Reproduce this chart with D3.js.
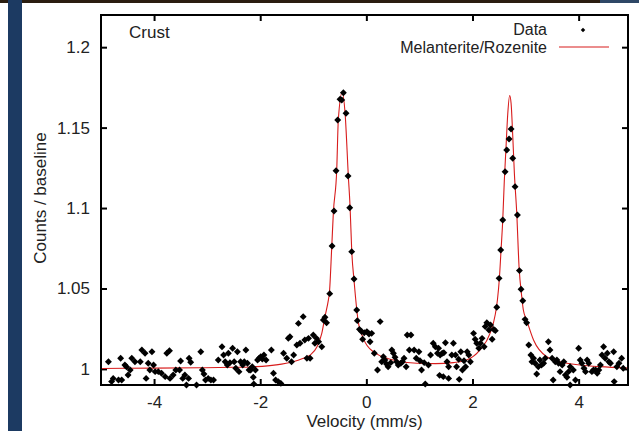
<!DOCTYPE html>
<html>
<head>
<meta charset="utf-8">
<script src="https://cdn.jsdelivr.net/npm/d3@7"></script>
<style>
  body { margin: 0; background: #fff; }
  svg { display: block; font-family: "Liberation Sans", Arial, sans-serif; }
</style>
</head>
<body>
<div id="chart"></div>
<script>
// axis ticks
const xTicks = [-4, -2, 0, 2, 4];
const xTickLabels = ['-4', '-2', '0', '2', '4'];
const yTicks = [1, 1.05, 1.1, 1.15, 1.2];
const yTickLabels = ['1', '1.05', '1.1', '1.15', '1.2'];

// measured spectrum (velocity in mm/s, counts / baseline)
const dataVelocity = [
  -4.86, -4.80, -4.77, -4.67, -4.63, -4.61, -4.55, -4.52, -4.49, -4.45,
  -4.42, -4.36, -4.26, -4.23, -4.17, -4.15, -4.11, -4.08, -4.04, -4.01,
  -3.98, -3.92, -3.86, -3.79, -3.76, -3.71, -3.70, -3.64, -3.59, -3.52,
  -3.50, -3.46, -3.42, -3.39, -3.35, -3.34, -3.31, -3.20, -3.12, -3.09,
  -3.06, -3.03, -2.98, -2.93, -2.88, -2.79, -2.72, -2.69, -2.66, -2.62,
  -2.60, -2.57, -2.52, -2.49, -2.46, -2.43, -2.40, -2.37, -2.33, -2.30,
  -2.27, -2.24, -2.21, -2.18, -2.15, -2.13, -2.12, -2.09, -2.05, -2.02,
  -1.99, -1.96, -1.93, -1.89, -1.79, -1.75, -1.71, -1.66, -1.61, -1.56,
  -1.50, -1.47, -1.44, -1.41, -1.37, -1.31, -1.28, -1.25, -1.19, -1.16,
  -1.12, -1.09, -1.06, -1.00, -0.97, -0.94, -0.90, -0.84, -0.81, -0.78,
  -0.75, -0.690, -0.646, -0.609, -0.571, -0.540, -0.496, -0.464, -0.433, -0.383,
  -0.345, -0.313, -0.276, -0.232, -0.182, -0.17, -0.13, -0.09, -0.07, -0.04,
  0.01, 0.05, 0.07, 0.10, 0.15, 0.21, 0.26, 0.29, 0.32, 0.35,
  0.38, 0.41, 0.46, 0.48, 0.51, 0.54, 0.57, 0.60, 0.65, 0.68,
  0.71, 0.75, 0.77, 0.81, 0.84, 0.90, 0.94, 0.99, 1.01, 1.04,
  1.09, 1.11, 1.17, 1.21, 1.26, 1.30, 1.34, 1.36, 1.38, 1.39,
  1.43, 1.45, 1.46, 1.49, 1.52, 1.55, 1.55, 1.61, 1.64, 1.68,
  1.70, 1.74, 1.75, 1.78, 1.81, 1.84, 1.87, 1.90, 1.93, 1.96,
  2.02, 2.05, 2.08, 2.12, 2.15, 2.18, 2.22, 2.24, 2.27, 2.31,
  2.34, 2.37, 2.40, 2.43, 2.457, 2.501, 2.532, 2.570, 2.614, 2.645,
  2.689, 2.727, 2.758, 2.802, 2.846, 2.884, 2.915, 2.947, 2.99, 3.02,
  3.06, 3.10, 3.12, 3.15, 3.18, 3.21, 3.24, 3.27, 3.30, 3.34,
  3.37, 3.43, 3.46, 3.50, 3.52, 3.56, 3.59, 3.62, 3.65, 3.69,
  3.72, 3.75, 3.78, 3.81, 3.84, 3.84, 3.90, 3.94, 4.00, 4.03,
  4.06, 4.10, 4.13, 4.16, 4.19, 4.25, 4.28, 4.32, 4.35, 4.38,
  4.41, 4.44, 4.47, 4.50, 4.54, 4.57, 4.60, 4.66, 4.67, 4.72,
  4.76, 4.81, 4.84
];
const dataCounts = [
  1.0045, 0.9921, 0.9941, 0.9931, 1.0066, 0.9931, 1.0024, 1.0014, 0.9962, 0.9993,
  1.0066, 1.0045, 1.0045, 1.0118, 1.0097, 0.9941, 1.0035, 0.9993, 1.0107, 1.0024,
  0.9983, 0.9983, 0.9973, 0.9952, 1.0097, 1.0113, 0.9941, 0.9962, 0.9993, 0.9993,
  1.0049, 0.9941, 0.9962, 0.9900, 0.9941, 1.0066, 1.0041, 0.9900, 1.0107, 0.9993,
  0.9968, 0.9931, 0.9941, 0.9931, 0.9931, 1.0055, 1.0138, 1.0086, 1.0045, 1.0024,
  1.0097, 1.0039, 1.0128, 1.0045, 1.0004, 1.0107, 0.9983, 1.0045, 1.0024, 1.0045,
  1.0118, 1.0035, 0.9993, 0.9993, 1.0014, 0.9948, 0.9906, 0.9993, 1.0055, 1.0066,
  1.0076, 1.0062, 1.0086, 1.0055, 1.0118, 0.9973, 0.9931, 0.9921, 0.9910, 1.0097,
  1.0066, 1.0190, 1.0200, 1.0045, 1.0086, 1.0149, 1.0283, 1.0159, 1.0325, 1.0180,
  1.0066, 1.0190, 1.0066, 1.0211, 1.0159, 1.0190, 1.0169, 1.0138, 1.0304, 1.0321,
  1.0287, 1.0468, 1.0764, 1.0982, 1.1232, 1.1547, 1.1676, 1.1672, 1.1717, 1.1589,
  1.1199, 1.1002, 1.0729, 1.0559, 1.0366, 1.0300, 1.0246, 1.0232, 1.0184, 1.0225,
  1.0232, 1.0217, 1.0169, 1.0221, 1.0097, 0.9993, 1.0294, 1.0045, 1.0076, 1.0055,
  1.0031, 1.0014, 1.0039, 1.0118, 1.0097, 1.0072, 1.0045, 1.0024, 1.0035, 1.0045,
  1.0066, 1.0014, 1.0211, 1.0118, 1.0211, 1.0118, 1.0066, 1.0107, 1.0051, 0.9993,
  1.0039, 0.9906, 1.0024, 1.0086, 1.0159, 1.0138, 1.0097, 1.0128, 0.9960, 1.0086,
  1.0097, 0.9952, 1.0101, 1.0163, 1.0045, 1.0014, 0.9941, 1.0086, 1.0159, 1.0086,
  1.0014, 1.0060, 0.9935, 1.0107, 0.9993, 1.0051, 1.0014, 1.0107, 1.0086, 1.0045,
  1.0221, 1.0184, 1.0159, 1.0128, 1.0159, 1.0190, 1.0138, 1.0263, 1.0287, 1.0242,
  1.0273, 1.0184, 1.0246, 1.0238, 1.0383, 1.0563, 1.0739, 1.0926, 1.1226, 1.1361,
  1.1429, 1.1491, 1.1309, 1.1133, 1.0957, 1.0611, 1.0495, 1.0424, 1.0308, 1.0287,
  1.0149, 1.0086, 1.0045, 1.0066, 1.0035, 0.9968, 1.0014, 1.0055, 1.0024, 1.0035,
  1.0066, 1.0169, 1.0118, 1.0066, 0.9931, 1.0045, 1.0055, 1.0035, 0.9983, 1.0024,
  1.0045, 0.9962, 0.9948, 0.9983, 1.0014, 0.9900, 0.9993, 0.9931, 1.0128, 1.0055,
  1.0035, 1.0004, 0.9983, 1.0055, 1.0035, 0.9983, 0.9993, 0.9993, 0.9973, 0.9993,
  1.0024, 1.0086, 1.0138, 1.0066, 1.0097, 1.0045, 1.0035, 1.0107, 0.9921, 1.0014,
  1.0035, 1.0066, 1.0004
];

// fitted Melanterite/Rozenite doublet
const fitVelocity = [
  -5.0, -4.0, -3.13, -2.5, -2.07, -1.7, -1.38, -1.2, -1.06, -0.93,
  -0.84, -0.78, -0.716, -0.697, -0.652, -0.622, -0.558, -0.528, -0.455, -0.401,
  -0.339, -0.307, -0.275, -0.232, -0.181, -0.156, -0.057, 0.13, 0.51, 0.95,
  1.3, 1.64, 1.89, 2.14, 2.33, 2.43, 2.47, 2.506, 2.538, 2.570,
  2.600, 2.632, 2.665, 2.700, 2.727, 2.759, 2.789, 2.834, 2.877, 2.928,
  2.958, 3.02, 3.15, 3.40, 3.78, 4.40, 4.93
];
const fitCounts = [
  1.0003, 1.0005, 1.0007, 1.0010, 1.0014, 1.0025, 1.0045, 1.0065, 1.0086, 1.0138,
  1.0221, 1.0325, 1.0428, 1.047, 1.076, 1.097, 1.124, 1.155, 1.172, 1.159,
  1.1195, 1.101, 1.073, 1.055, 1.037, 1.030, 1.019, 1.0107, 1.0055, 1.0035,
  1.0033, 1.0039, 1.0055, 1.0118, 1.0221, 1.034, 1.043, 1.056, 1.0739, 1.0926,
  1.1174, 1.1381, 1.1589, 1.170, 1.1651, 1.1444, 1.1216, 1.0967, 1.0635, 1.0449,
  1.0366, 1.0304, 1.0180, 1.0076, 1.0035, 1.0014, 1.0005
];

const width = 639, height = 431;
const margin = { left: 101, right: 11, top: 15, bottom: 46 };
const innerW = width - margin.left - margin.right;
const innerH = height - margin.top - margin.bottom;

const svg = d3.select('#chart').append('svg')
  .attr('width', width)
  .attr('height', height);

// slide decoration: dark top strip and navy bar at left
svg.append('rect').attr('x', 0).attr('y', 0).attr('width', width).attr('height', 3).attr('fill', '#2a1d10');
svg.append('rect').attr('x', 600).attr('y', 0).attr('width', 39).attr('height', 3).attr('fill', '#2e4766');
svg.append('rect').attr('x', 8).attr('y', 0).attr('width', 14).attr('height', height).attr('fill', '#1c3a62');

const x = d3.scaleLinear().domain([-5, 4.93]).range([0, innerW]);
const y = d3.scaleLinear().domain([0.99, 1.22]).range([innerH, 0]);

const g = svg.append('g').attr('transform', `translate(${margin.left},${margin.top})`);

const tickLen = 6;
const fontSize = 17;

g.append('g')
  .attr('transform', `translate(0,${innerH})`)
  .call(d3.axisBottom(x).tickValues(xTicks).tickSizeInner(-tickLen).tickSizeOuter(0).tickPadding(11)
    .tickFormat((d, i) => xTickLabels[i]))
  .call(a => a.select('.domain').remove());

g.append('g')
  .call(d3.axisTop(x).tickValues(xTicks).tickSizeInner(-tickLen).tickSizeOuter(0).tickFormat(''))
  .call(a => a.select('.domain').remove());

g.append('g')
  .call(d3.axisLeft(y).tickValues(yTicks).tickSizeInner(-tickLen).tickSizeOuter(0).tickPadding(11)
    .tickFormat((d, i) => yTickLabels[i]))
  .call(a => a.select('.domain').remove());

g.append('g')
  .attr('transform', `translate(${innerW},0)`)
  .call(d3.axisRight(y).tickValues(yTicks).tickSizeInner(-tickLen).tickSizeOuter(0).tickFormat(''))
  .call(a => a.select('.domain').remove());

g.selectAll('.tick line').attr('stroke', '#000').attr('stroke-width', 2);
g.selectAll('.tick text')
  .attr('font-family', '"Liberation Sans", Arial, sans-serif')
  .attr('font-size', fontSize)
  .attr('fill', '#222');

// fitted curve
const fit = fitVelocity.map((v, i) => [v, fitCounts[i]]);
const line = d3.line()
  .x(d => x(d[0]))
  .y(d => y(d[1]))
  .curve(d3.curveMonotoneX);

g.append('path')
  .datum(fit)
  .attr('d', line)
  .attr('fill', 'none')
  .attr('stroke', '#d81c1c')
  .attr('stroke-width', 1.1);

// data points as filled diamonds
const diamond = d3.symbol().type(d3.symbolSquare).size(24);
const pts = dataVelocity.map((v, i) => [v, dataCounts[i]]);
g.append('g')
  .selectAll('path')
  .data(pts)
  .join('path')
  .attr('d', diamond)
  .attr('transform', d => `translate(${x(d[0])},${y(d[1])}) rotate(45)`)
  .attr('fill', '#000');

// frame
g.append('rect')
  .attr('width', innerW)
  .attr('height', innerH)
  .attr('fill', 'none')
  .attr('stroke', '#000')
  .attr('stroke-width', 2);

// labels
g.append('text')
  .attr('x', 28).attr('y', 23)
  .attr('font-size', fontSize).attr('fill', '#222')
  .text('Crust');

svg.append('text')
  .attr('x', margin.left + innerW / 2)
  .attr('y', 427)
  .attr('text-anchor', 'middle')
  .attr('font-size', fontSize).attr('fill', '#222')
  .text('Velocity (mm/s)');

svg.append('text')
  .attr('transform', 'translate(46,198) rotate(-90)')
  .attr('text-anchor', 'middle')
  .attr('font-size', fontSize).attr('fill', '#222')
  .text('Counts / baseline');

// legend
const legendSize = 16;
const legend = svg.append('g');
legend.append('text')
  .attr('x', 547).attr('y', 35)
  .attr('text-anchor', 'end')
  .attr('font-size', legendSize).attr('fill', '#222')
  .text('Data');
legend.append('path')
  .attr('d', d3.symbol().type(d3.symbolSquare).size(10))
  .attr('transform', 'translate(583,30) rotate(45)')
  .attr('fill', '#000');
legend.append('text')
  .attr('x', 547).attr('y', 53)
  .attr('text-anchor', 'end')
  .attr('font-size', legendSize).attr('fill', '#222')
  .text('Melanterite/Rozenite');
legend.append('line')
  .attr('x1', 559).attr('x2', 609)
  .attr('y1', 47).attr('y2', 47)
  .attr('stroke', '#d81c1c')
  .attr('stroke-width', 1.1);
</script>
</body>
</html>
